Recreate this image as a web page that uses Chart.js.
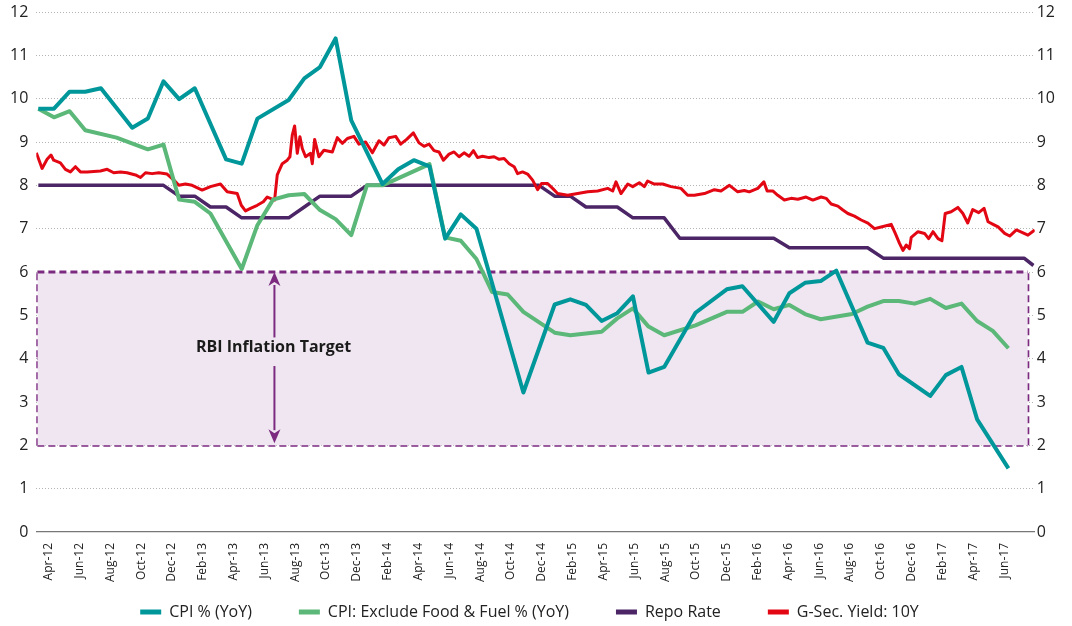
<!DOCTYPE html>
<html>
<head>
<meta charset="utf-8">
<script src="https://cdn.jsdelivr.net/npm/chart.js@4.4.0/dist/chart.umd.min.js"></script>
<style>
  html, body { margin: 0; padding: 0; background: #fff; }
  #wrap { position: relative; width: 1072px; height: 626px; }
</style>
</head>
<body>
<div id="wrap"><canvas id="chart"></canvas></div>
<script>
// month index: 0 = Apr-12, 62 = Jun-17
const tickLabels = ['Apr-12','Jun-12','Aug-12','Oct-12','Dec-12','Feb-13','Apr-13','Jun-13','Aug-13','Oct-13',
  'Dec-13','Feb-14','Apr-14','Jun-14','Aug-14','Oct-14','Dec-14','Feb-15','Apr-15','Jun-15',
  'Aug-15','Oct-15','Dec-15','Feb-16','Apr-16','Jun-16','Aug-16','Oct-16','Dec-16','Feb-17',
  'Apr-17','Jun-17'];

const cpiMonths = [0,1,2,3,4,6,7,8,9,10,12,13,14,16,17,18,19,20,22,23,24,25,26,27,28,31,33,34,35,36,
  37,38,39,40,42,44,45,47,48,49,50,51,53,54,55,57,58,59,60,62];
const cpi = [9.77,9.77,10.16,10.16,10.24,9.33,9.54,10.40,9.99,10.24,8.6,8.5,9.54,9.97,10.47,10.73,11.39,9.5,8.03,8.37,
  8.58,8.44,6.77,7.33,7.0,3.22,5.25,5.37,5.24,4.87,5.05,5.44,3.68,3.81,5.06,5.6,5.67,4.85,5.51,5.75,
  5.79,6.03,4.37,4.25,3.64,3.14,3.62,3.81,2.6,1.47];

const coreMonths = [0,1,2,3,5,7,8,9,10,11,13,14,15,16,17,18,19,20,21,22,25,26,27,28,29,30,31,33,34,36,
  37,38,39,40,42,44,45,46,47,48,49,50,52,53,54,55,56,57,58,59,60,61,62];
const coreCpi = [9.77,9.57,9.71,9.27,9.1,8.83,8.94,7.67,7.62,7.35,6.07,7.08,7.67,7.77,7.8,7.43,7.22,6.85,8.0,8.0,
  8.49,6.8,6.72,6.3,5.54,5.48,5.08,4.6,4.54,4.62,4.93,5.16,4.74,4.54,4.77,5.08,5.08,5.32,5.14,5.24,
  5.03,4.91,5.03,5.2,5.33,5.33,5.27,5.38,5.17,5.27,4.87,4.64,4.24];

const repoMonths = [0,8,9,10,11,12,13,16,17,18,20,21,32,33,34,35,37,38,40,41,47,48,53,54,63,63.6];
const repo = [8,8,7.75,7.75,7.5,7.5,7.25,7.25,7.5,7.75,7.75,8,8,7.75,7.75,7.5,7.5,7.25,7.25,6.78,
  6.78,6.56,6.56,6.32,6.32,6.15];

const gsecMonths = [
  -0.13,0.24,0.56,0.81,0.98,1.41,1.73,2.05,2.37,2.69,
  3.12,3.97,4.4,4.82,5.25,5.67,6.21,6.53,6.85,7.27,
  7.7,8.23,8.66,8.98,9.4,9.83,10.47,11.0,11.64,12.07,
  12.71,12.97,13.24,13.56,13.99,14.38,14.63,15.1,15.27,15.59,
  15.91,16.08,16.23,16.38,16.55,16.72,16.87,17.08,17.4,17.51,
  17.66,17.93,18.25,18.79,19.11,19.43,19.75,20.17,20.49,20.92,
  21.35,21.77,22.09,22.41,22.84,23.16,23.54,23.97,24.33,24.65,
  24.97,25.29,25.61,25.89,26.25,26.57,26.89,27.21,27.53,27.81,
  28.07,28.39,28.81,29.13,29.45,29.77,30.09,30.41,30.63,30.95,
  31.27,31.59,31.91,32.16,32.55,32.87,33.19,33.83,34.47,35.11,
  35.75,36.39,36.71,36.92,37.24,37.67,37.99,38.41,38.73,38.94,
  39.37,39.9,40.44,41.07,41.5,41.93,42.57,43.21,43.63,44.17,
  44.7,45.12,45.44,45.98,46.37,46.58,46.94,47.26,47.68,48.11,
  48.54,49.07,49.5,50.03,50.35,50.67,51.1,51.42,51.74,52.16,
  52.59,53.02,53.44,53.87,54.51,54.77,55.04,55.26,55.47,55.68,
  55.79,56.22,56.64,56.9,57.18,57.5,57.75,57.96,58.34,58.77,
  59.09,59.4,59.72,60.1,60.44,60.7,61.02,61.34,61.76,62.08,
  62.51,62.9,63.25,63.68];
const gsec = [
  8.75,8.39,8.6,8.7,8.58,8.52,8.37,8.31,8.43,8.31,
  8.31,8.33,8.37,8.29,8.31,8.29,8.24,8.18,8.29,8.27,
  8.29,8.26,8.12,8.0,8.03,8.0,7.89,7.97,8.03,7.85,
  7.81,7.54,7.41,7.47,7.54,7.62,7.73,7.66,8.24,8.5,
  8.58,8.66,9.16,9.37,8.74,9.12,8.85,8.66,8.74,8.5,
  9.06,8.66,8.81,8.77,9.1,8.97,9.08,9.13,8.95,9.0,
  8.75,9.03,8.93,9.1,9.13,8.95,9.06,9.21,8.98,8.9,
  8.95,8.8,8.77,8.58,8.72,8.77,8.66,8.75,8.67,8.8,
  8.64,8.67,8.64,8.66,8.6,8.62,8.5,8.43,8.27,8.31,
  8.26,8.12,7.9,8.04,8.04,7.93,7.81,7.77,7.81,7.85,
  7.87,7.93,7.87,8.08,7.81,8.03,7.97,8.06,7.97,8.1,
  8.03,8.03,7.97,7.93,7.77,7.77,7.81,7.9,7.87,8.0,
  7.85,7.88,7.85,7.93,8.08,7.87,7.87,7.77,7.66,7.7,
  7.68,7.73,7.66,7.73,7.7,7.57,7.52,7.43,7.35,7.29,
  7.2,7.13,7.0,7.04,7.1,6.89,6.66,6.5,6.62,6.54,
  6.8,6.93,6.89,6.77,6.93,6.77,6.72,7.35,7.39,7.49,
  7.35,7.13,7.44,7.37,7.47,7.16,7.1,7.04,6.89,6.83,
  6.97,6.91,6.85,6.97];

// RBI target band: lower, mid, upper
const targetBand = [2, 4, 6];

const bandColor = '#7b2a80';
const bandFill = '#efe6f1';
const bandLeft = -0.06;
const bandRight = 63.24;
const arrowMonth = 15.09;
const noteMonth = 20.0;

Chart.defaults.font.family = '"Open Sans", "Noto Sans", sans-serif';
Chart.defaults.color = '#222';

function points(months, values) {
  return months.map((m, i) => ({ x: m, y: values[i] }));
}

function lineSet(label, months, values, color, width, order) {
  return {
    label,
    data: points(months, values),
    borderColor: color,
    backgroundColor: color,
    borderWidth: width,
    pointRadius: 0,
    tension: 0,
    borderJoinStyle: 'round',
    fill: false,
    order,
  };
}

function bandEdge(data, extra) {
  return Object.assign({
    label: 'band',
    data,
    borderColor: bandColor,
    borderWidth: 3,
    borderDash: [7, 4],
    pointRadius: 0,
    fill: false,
    order: 10,
  }, extra || {});
}

function drawArrow(ctx, x, from, to) {
  const dir = Math.sign(to - from);
  const head = 13;
  ctx.beginPath();
  ctx.moveTo(x, from);
  ctx.lineTo(x, to - dir * head);
  ctx.stroke();
  ctx.beginPath();
  ctx.moveTo(x, to);
  ctx.lineTo(x - 6, to - dir * (head + 1));
  ctx.lineTo(x, to - dir * (head - 3));
  ctx.lineTo(x + 6, to - dir * (head + 1));
  ctx.closePath();
  ctx.fill();
}

const targetNote = {
  id: 'targetNote',
  afterDatasetsDraw(chart) {
    const { ctx, scales: { x, y } } = chart;
    const ax = x.getPixelForValue(arrowMonth);
    ctx.save();
    ctx.strokeStyle = bandColor;
    ctx.fillStyle = bandColor;
    ctx.lineWidth = 2;
    drawArrow(ctx, ax, y.getPixelForValue(4.49), y.getPixelForValue(targetBand[2]));
    drawArrow(ctx, ax, y.getPixelForValue(3.83), y.getPixelForValue(2.05));
    ctx.font = 'bold 16px "Open Sans", sans-serif';
    ctx.fillStyle = '#1a1a1a';
    ctx.textAlign = 'right';
    ctx.textBaseline = 'middle';
    ctx.fillText('RBI Inflation Target', x.getPixelForValue(noteMonth), y.getPixelForValue(4.27));
    ctx.restore();
  }
};

new Chart(document.getElementById('chart'), {
  type: 'line',
  data: {
    datasets: [
      lineSet('CPI % (YoY)', cpiMonths, cpi, '#00979b', 4, 0),
      lineSet('CPI: Exclude Food & Fuel % (YoY)', coreMonths, coreCpi, '#5bb878', 4, 1),
      lineSet('Repo Rate', repoMonths, repo, '#4b2565', 3.5, 3),
      lineSet('G-Sec. Yield: 10Y', gsecMonths, gsec, '#e30613', 3, 2),
      bandEdge([{ x: bandLeft, y: targetBand[2] }, { x: bandRight, y: targetBand[2] }],
        { fill: { value: targetBand[0] }, backgroundColor: bandFill }),
      bandEdge([{ x: bandLeft, y: targetBand[1] }, { x: bandRight, y: targetBand[1] }]),
      bandEdge([{ x: bandLeft, y: targetBand[0] }, { x: bandRight, y: targetBand[0] }]),
      bandEdge([{ x: bandLeft, y: targetBand[0] }, { x: bandLeft, y: targetBand[2] }]),
      bandEdge([{ x: bandRight, y: targetBand[0] }, { x: bandRight, y: targetBand[2] }]),
    ],
  },
  options: {
    responsive: true,
    maintainAspectRatio: false,
    animation: false,
    devicePixelRatio: 1,
    layout: { padding: { left: 2, right: 15, top: -3, bottom: -4 } },
    plugins: {
      tooltip: { enabled: false },
      legend: {
        position: 'bottom',
        labels: {
          boxWidth: 21,
          boxHeight: 5,
          padding: 47,
          color: '#222',
          font: { size: 16 },
          filter: item => item.datasetIndex < 4,
          sort: (a, b) => a.datasetIndex - b.datasetIndex,
          generateLabels: chart => Chart.defaults.plugins.legend.labels.generateLabels(chart)
            .map(l => Object.assign(l, { lineWidth: 0 })),
        },
      },
    },
    scales: {
      x: { type: 'linear', display: false, min: -0.13, max: 63.68 },
      xl: {
        type: 'linear',
        position: 'bottom',
        min: -0.8,
        max: 63.98,
        afterBuildTicks: axis => { axis.ticks = tickLabels.map((_, i) => ({ value: i * 2 })); },
        afterFit: axis => {
          // keep the month labels compact; let them run into the legend band unclipped
          axis.height = 25;
          axis._computeLabelArea = () => null;
        },
        ticks: {
          autoSkip: false,
          minRotation: 90,
          maxRotation: 90,
          padding: 11,
          font: { size: 12 },
          color: '#222',
          callback: (v, i) => tickLabels[i],
        },
        grid: { display: false, drawTicks: false },
        border: { display: true, color: '#777', width: 1.2 },
      },
      y: {
        min: 0,
        max: 12,
        afterFit: axis => { axis.paddingTop = 12; },
        ticks: { stepSize: 1, padding: 8, font: { size: 16, lineHeight: 1 }, color: '#222' },
        grid: {
          drawTicks: false,
          color: ctx => ctx.tick.value === 0 ? 'rgba(0,0,0,0)' : '#b4b4b4',
          lineWidth: 1,
        },
        border: { display: false, dash: [1, 2] },
      },
      y2: {
        position: 'right',
        min: 0,
        max: 12,
        afterFit: axis => { axis.paddingTop = 12; },
        ticks: { stepSize: 1, padding: 2, font: { size: 16, lineHeight: 1 }, color: '#222' },
        grid: { display: false, drawTicks: false },
        border: { display: false },
      },
    },
  },
  plugins: [targetNote],
});
</script>
</body>
</html>
